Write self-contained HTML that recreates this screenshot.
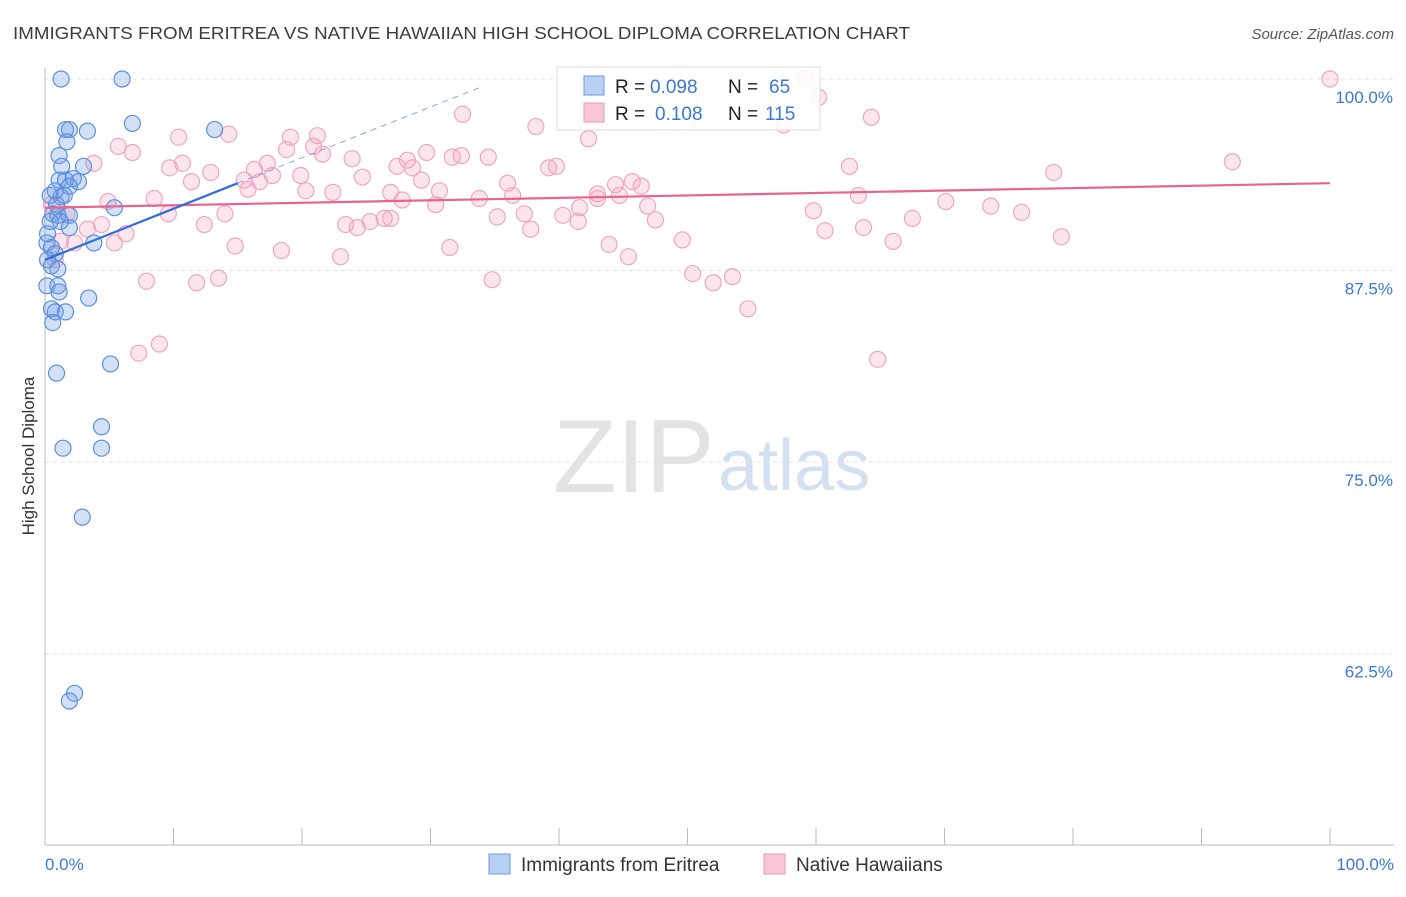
<!DOCTYPE html>
<html><head><meta charset="utf-8"><style>
body{margin:0;background:#fff;font-family:"Liberation Sans",sans-serif;}
svg text{font-family:"Liberation Sans",sans-serif;}
</style></head><body>
<svg id="chart" width="1406" height="892" xmlns="http://www.w3.org/2000/svg">
<text x="13" y="39" font-size="17.5" fill="#3c3c3c" textLength="897" lengthAdjust="spacingAndGlyphs">IMMIGRANTS FROM ERITREA VS NATIVE HAWAIIAN HIGH SCHOOL DIPLOMA CORRELATION CHART</text>
<text x="1394" y="39" font-size="15" fill="#555" text-anchor="end" font-style="italic">Source: ZipAtlas.com</text>
<text x="553" y="492" font-size="104" fill="#d8d8d8" font-family="Liberation Serif" opacity="0.7">ZIP</text>
<text x="718" y="490" font-size="72" fill="#b8cdea" opacity="0.6">atlas</text>
<g id="grid"></g>
<g id="axes"></g>
<g id="marks"></g>
<text transform="translate(34,456) rotate(-90)" font-size="17" fill="#333" text-anchor="middle">High School Diploma</text>
<g>
<rect x="557" y="67" width="263" height="63" fill="rgba(255,255,255,0.85)" stroke="#ddd"/>
<rect x="584" y="76" width="20" height="19" fill="#b9d0f3" stroke="#6b9be0"/>
<text x="615" y="93" font-size="19" fill="#222">R =</text>
<text x="650" y="93" font-size="19" fill="#3a78d6">0.098</text>
<text x="728" y="93" font-size="19" fill="#222">N =</text>
<text x="769" y="93" font-size="19" fill="#3a78d6">65</text>
<rect x="584" y="103" width="20" height="19" fill="#f8c6d6" stroke="#ee9ab8"/>
<text x="615" y="120" font-size="19" fill="#222">R =</text>
<text x="655" y="120" font-size="19" fill="#3a78d6">0.108</text>
<text x="728" y="120" font-size="19" fill="#222">N =</text>
<text x="765" y="120" font-size="19" fill="#3a78d6">115</text>
</g>
<g>
<rect x="489" y="854" width="21" height="20" fill="#b9d0f3" stroke="#6b9be0"/>
<text x="521" y="871" font-size="19" fill="#333">Immigrants from Eritrea</text>
<rect x="764" y="854" width="21" height="20" fill="#f8c6d6" stroke="#ee9ab8"/>
<text x="796" y="871" font-size="19" fill="#333">Native Hawaiians</text>
</g>
</svg>
<script>
const blueX=[1.25,6.0,6.8,13.2,1.6,1.9,3.3,1.7,1.1,1.3,3.0,1.1,1.6,2.2,2.6,1.9,0.4,1.25,0.9,5.4,0.6,1.0,1.9,1.2,1.9,0.15,0.5,0.8,3.8,0.2,0.5,1.0,0.15,1.0,1.1,3.4,0.5,0.8,1.6,0.6,5.1,0.9,4.4,1.4,4.4,2.9,2.3,1.9,0.2,0.4,0.8,1.5];
const blueY=[100,100,97.1,96.7,96.7,96.7,96.6,95.9,95.0,94.3,94.3,93.4,93.4,93.5,93.3,93.0,92.4,92.3,91.8,91.6,91.2,91.1,91.1,90.7,90.3,89.3,89.0,88.6,89.3,88.2,87.8,87.6,86.5,86.5,86.1,85.7,85.0,84.8,84.8,84.1,81.4,80.8,77.3,75.9,75.9,71.4,59.9,59.4,89.9,90.7,92.7,92.4];
const pinkX=[59.2,100,60.2,32.5,64.3,38.2,57.5,14.3,10.4,19.1,21.2,42.3,5.7,20.9,18.8,6.8,21.6,3.8,17.3,23.9,34.5,31.7,32.4,29.7,28.2,27.4,28.6,39.2,39.8,62.6,92.4,9.7,10.7,12.9,16.3,15.5,16.7,17.7,19.9,11.4,24.7,29.3,36.0,44.4,45.7,46.4,78.5,15.8,20.3,22.4,26.9,30.7,36.4,43.0,44.7,63.3,4.9,8.5,27.8,30.4,33.8,41.6,43.0,46.9,70.1,73.6,9.6,14.0,35.2,37.3,40.3,59.8,76.0,67.5,12.4,23.4,24.3,25.3,26.4,26.9,41.5,47.5,63.7,60.7,37.8,4.4,3.3,6.3,2.3,5.4,14.8,31.5,43.9,49.6,66.0,79.1,18.4,23.0,45.4,50.4,52.0,53.5,34.8,7.9,11.8,13.5,54.7,8.9,7.3,64.8,1.2,0.8,1.7,0.5];
const pinkY=[100,100,98.8,97.7,97.5,96.9,97.0,96.4,96.2,96.2,96.3,96.1,95.6,95.6,95.4,95.2,95.1,94.5,94.5,94.8,94.9,94.9,95.0,95.2,94.7,94.3,94.2,94.2,94.3,94.3,94.6,94.2,94.5,93.9,94.1,93.4,93.3,93.7,93.7,93.3,93.6,93.4,93.2,93.1,93.3,93.0,93.9,92.8,92.7,92.6,92.6,92.7,92.4,92.5,92.4,92.4,92.0,92.2,92.1,91.8,92.2,91.6,92.2,91.7,92.0,91.7,91.2,91.2,91.0,91.2,91.1,91.4,91.3,90.9,90.5,90.5,90.3,90.7,90.9,90.9,90.7,90.8,90.3,90.1,90.2,90.5,90.2,89.9,89.3,89.3,89.1,89.0,89.2,89.5,89.4,89.7,88.8,88.4,88.4,87.3,86.7,87.1,86.9,86.8,86.7,87.0,85.0,82.7,82.1,81.7,89.4,88.2,91.2,91.8];
const yTicks=[100,87.5,75,62.5];
const yTickLabels=["100.0%","87.5%","75.0%","62.5%"];
const blueTrend=[[0,88.2],[15,93.2]];
const blueDash=[[15,93.2],[34,99.5]];
const pinkTrend=[[0,91.6],[100,93.2]];

const NS="http://www.w3.org/2000/svg";
const X0=45,X1=1330,YT=79,YB=845;
const sx=v=>X0+(X1-X0)*v/100;
const sy=v=>YT+(100-v)*(YB-YT)/50;
function mk(t,a,p){const e=document.createElementNS(NS,t);for(const k in a)e.setAttribute(k,a[k]);p.appendChild(e);return e;}
const grid=document.getElementById('grid'),axes=document.getElementById('axes'),marks=document.getElementById('marks');
yTicks.forEach((v,i)=>{
  const l=mk('line',{x1:X0,x2:1394,y1:sy(v),y2:sy(v),stroke:'#e2e2e2','stroke-dasharray':'4,4'},grid);
  
  
  const t=mk('text',{x:1393,y:sy(v)+24,'font-size':17,fill:'#3a78d6','text-anchor':'end'},axes);
  t.textContent=yTickLabels[i];
  
  
});
let a=mk('line',{x1:X0,x2:X0,y1:68,y2:YB,stroke:'#bbb'},axes);


a=mk('line',{x1:X0,x2:1394,y1:YB,y2:YB,stroke:'#bbb'},axes);


for(let i=0;i<=10;i++){
  const t=mk('line',{x1:sx(i*10),x2:sx(i*10),y1:828,y2:YB,stroke:'#bbb'},axes);
  
  
}
let xl=mk('text',{x:45,y:870,'font-size':17,fill:'#3a78d6'},axes);xl.textContent='0.0%';


xl=mk('text',{x:1394,y:870,'font-size':17,fill:'#3a78d6','text-anchor':'end'},axes);xl.textContent='100.0%';


pinkX.forEach((v,i)=>{
  const c=mk('circle',{cx:sx(v),cy:sy(pinkY[i]),r:8,fill:'rgba(244,160,190,0.28)',stroke:'#f0a5c0','stroke-width':1.2},marks);
  
  
});
blueX.forEach((v,i)=>{
  const c=mk('circle',{cx:sx(v),cy:sy(blueY[i]),r:8,fill:'rgba(110,155,230,0.3)',stroke:'#5b8fde','stroke-width':1.2},marks);
  
  
});
let tl=mk('line',{x1:sx(pinkTrend[0][0]),y1:sy(pinkTrend[0][1]),x2:sx(pinkTrend[1][0]),y2:sy(pinkTrend[1][1]),stroke:'#e8648f','stroke-width':2.2},marks);


tl=mk('line',{x1:sx(blueTrend[0][0]),y1:sy(blueTrend[0][1]),x2:sx(blueTrend[1][0]),y2:sy(blueTrend[1][1]),stroke:'#2f6fd6','stroke-width':2.2},marks);


tl=mk('line',{x1:sx(blueDash[0][0]),y1:sy(blueDash[0][1]),x2:sx(blueDash[1][0]),y2:sy(blueDash[1][1]),stroke:'#7fa6e6','stroke-width':1,'stroke-dasharray':'6,5'},marks);


</script>
</body></html>
